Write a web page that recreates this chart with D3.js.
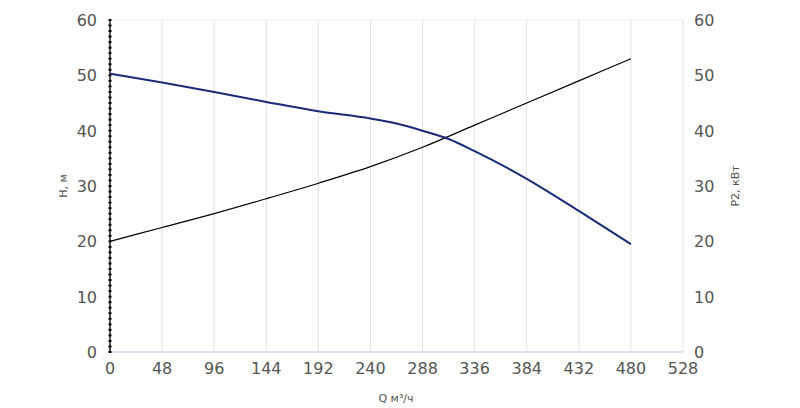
<!DOCTYPE html><html><head><meta charset="utf-8"><script src="https://cdn.jsdelivr.net/npm/d3@7"></script>
<style>body{margin:0;background:#fff}text{font-family:"DejaVu Sans",sans-serif;fill:#555}</style></head><body><svg width="800" height="408"></svg><script>
const xTicks=[0,48,96,144,192,240,288,336,384,432,480,528];
const yTicks=[0,10,20,30,40,50,60];
const qH=[0,48,96,144,192,240,264,288,312,336,384,432,480];
const hVals=[50.3,48.7,47,45.2,43.5,42.2,41.3,40,38.5,36.3,31.3,25.5,19.5];
const qP=[0,48,96,144,192,240,288,336,384,432,480];
const pVals=[20,22.5,25,27.7,30.5,33.5,37,41,45,49,53];
const svg=d3.select("svg");
const x=d3.scaleLinear().domain([0,528]).range([110,683]);
const y=d3.scaleLinear().domain([0,60]).range([352,20]);
// grid
svg.append("g").selectAll("line").data(xTicks.slice(1)).join("line").attr("x1",d=>x(d)).attr("x2",d=>x(d)).attr("y1",20).attr("y2",352).attr("stroke","#e3e3e3");
svg.append("line").attr("x1",110).attr("x2",683).attr("y1",20).attr("y2",20).attr("stroke","#ececec");
svg.append("line").attr("x1",110).attr("x2",683).attr("y1",352).attr("y2",352).attr("stroke","#cfd8ec").attr("stroke-width",1.5);
// left axis line with minor ticks
svg.append("line").attr("x1",110).attr("x2",110).attr("y1",20).attr("y2",352).attr("stroke","#555").attr("stroke-width",2);
svg.append("g").selectAll("line").data(d3.range(0,61,1)).join("line").attr("x1",108.5).attr("x2",111.5).attr("y1",d=>y(d)).attr("y2",d=>y(d)).attr("stroke","#000").attr("stroke-width",2);
// labels
svg.append("g").selectAll("text").data(xTicks).join("text").attr("x",d=>x(d)).attr("y",374).attr("text-anchor","middle").attr("font-size",16).text(d=>d);
svg.append("g").selectAll("text").data(yTicks).join("text").attr("x",97).attr("y",d=>y(d)+6).attr("text-anchor","end").attr("font-size",16).text(d=>d);
svg.append("g").selectAll("text").data(yTicks).join("text").attr("x",694).attr("y",d=>y(d)+6).attr("text-anchor","start").attr("font-size",16).text(d=>d);
svg.append("text").attr("x",396).attr("y",402).attr("text-anchor","middle").attr("font-size",11).text("Q м³/ч");
svg.append("text").attr("transform","translate(67,186) rotate(-90)").attr("text-anchor","middle").attr("font-size",11).text("H, м");
svg.append("text").attr("transform","translate(739,186) rotate(-90)").attr("text-anchor","middle").attr("font-size",11).text("P2, кВт");
const line=d3.line().curve(d3.curveMonotoneX);
svg.append("path").attr("d",line(qP.map((q,i)=>[x(q),y(pVals[i])]))).attr("fill","none").attr("stroke","#000").attr("stroke-width",1.2);
svg.append("path").attr("d",line(qH.map((q,i)=>[x(q),y(hVals[i])]))).attr("fill","none").attr("stroke","#1a2a78").attr("stroke-width",2);
</script></body></html>
